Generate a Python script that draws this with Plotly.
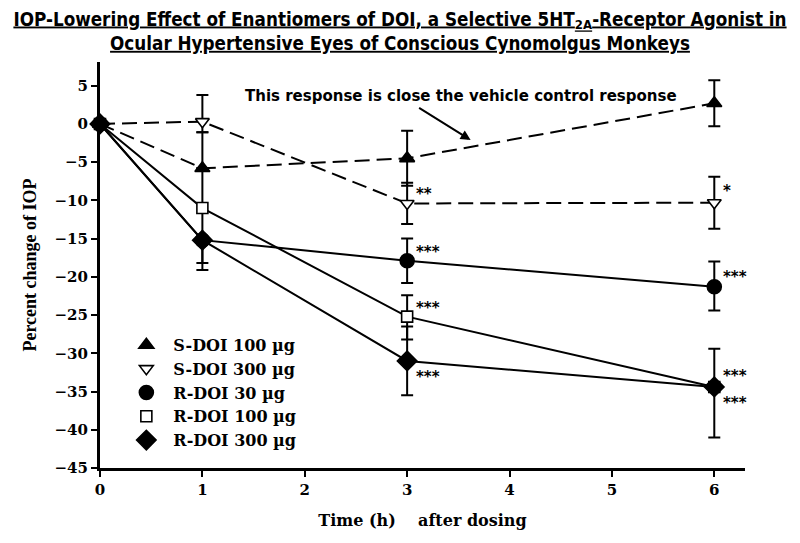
import plotly.graph_objects as go

hours = [0, 1, 3, 6]
x_ticks = [0, 1, 2, 3, 4, 5, 6]
y_ticks = [5, 0, -5, -10, -15, -20, -25, -30, -35, -40, -45]

s_doi_100 = [0, -5.8, -4.5, 2.7]
s_doi_100_up = [0, 4.7, 3.6, 3.0]
s_doi_100_dn = [0, 0, 3.6, 3.0]

s_doi_300 = [0, 0.3, -10.4, -10.3]
s_doi_300_up = [0, 3.5, 2.7, 3.4]
s_doi_300_dn = [0, 1.4, 2.7, 3.4]

r_doi_30 = [0, -15.2, -17.9, -21.3]
r_doi_30_up = [0, 0, 2.9, 3.3]
r_doi_30_dn = [0, 3.9, 2.9, 3.1]

r_doi_100 = [0, -11.0, -25.2, -34.4]
r_doi_100_up = [0, 5.2, 2.8, 5.0]
r_doi_100_dn = [0, 4.2, 3.0, 0]

r_doi_300 = [0, -15.2, -31.0, -34.4]
r_doi_300_up = [0, 0, 4.5, 0]
r_doi_300_dn = [0, 3.0, 4.5, 6.6]

# significance marks
sig_x = [3, 3, 3, 3, 6, 6, 6, 6]
sig_y = [-9.1, -16.8, -24.1, -33.1, -8.8, -20.0, -33.0, -36.5]
sig_t = ["**", "***", "***", "***", "*", "***", "***", "***"]

names = ["S-DOI 100 µg", "S-DOI 300 µg", "R-DOI 30 µg", "R-DOI 100 µg", "R-DOI 300 µg"]

SERIF = "DejaVu Serif"

series = [
    (s_doi_300, s_doi_300_up, s_doi_300_dn, "triangle-down", 12, "white", "15px,7px", names[1]),
    (r_doi_100, r_doi_100_up, r_doi_100_dn, "square", 11, "white", "solid", names[3]),
    (s_doi_100, s_doi_100_up, s_doi_100_dn, "triangle-up", 13, "black", "15px,7px", names[0]),
    (r_doi_300, r_doi_300_up, r_doi_300_dn, "diamond", 15, "black", "solid", names[4]),
    (r_doi_30, r_doi_30_up, r_doi_30_dn, "circle", 14, "black", "solid", names[2]),
]

fig = go.Figure()
for ys, up, dn, sym, sz, fill, dash, nm in series:
    fig.add_trace(go.Scatter(
        x=hours, y=ys, mode="lines+markers", name=nm, showlegend=False,
        line=dict(color="black", width=2, dash=dash),
        marker=dict(symbol=sym, size=sz, color=fill, line=dict(color="black", width=1.6)),
        error_y=dict(type="data", symmetric=False, array=up, arrayminus=dn,
                     color="black", thickness=2, width=6),
        cliponaxis=False,
    ))

leg = {names[0]: ("triangle-up", 13, "black"), names[1]: ("triangle-down", 12, "white"),
       names[2]: ("circle", 14, "black"), names[3]: ("square", 11, "white"),
       names[4]: ("diamond", 15, "black")}
for nm in names:
    sym, sz, fill = leg[nm]
    fig.add_trace(go.Scatter(
        x=[None], y=[None], mode="markers", name=nm,
        marker=dict(symbol=sym, size=sz, color=fill, line=dict(color="black", width=1.6)),
    ))

for xx, yy, tt in zip(sig_x, sig_y, sig_t):
    fig.add_annotation(x=xx, y=yy, text="<b>" + tt + "</b>", showarrow=False,
                       xanchor="left", yanchor="middle", xshift=7,
                       font=dict(family="DejaVu Sans", size=15, color="black"))

fig.add_annotation(x=3.62, y=-2.1, ax=-53, ay=-33, showarrow=True, arrowhead=2,
                   arrowsize=1, arrowwidth=2, arrowcolor="black", text="")
fig.add_annotation(xref="paper", yref="paper", x=(461 - 100) / 645, y=(468 - 96) / 406,
                   text="<b>This response is close the vehicle control response</b>",
                   showarrow=False, xanchor="center", yanchor="middle",
                   font=dict(family="DejaVu Sans", size=15, color="black"))

fig.update_layout(
    width=800, height=543,
    margin=dict(l=100, r=55, t=62, b=75),
    paper_bgcolor="white", plot_bgcolor="white",
    title=dict(
        text="<b><u>IOP-Lowering Effect of Enantiomers of DOI, a Selective 5HT<sub>2A</sub>-Receptor Agonist in</u></b><br><b><u>Ocular Hypertensive Eyes of Conscious Cynomolgus Monkeys</u></b>",
        x=0.5, xref="container", xanchor="center", yref="container", y=0.953, yanchor="top",
        font=dict(family="DejaVu Sans Condensed, Noto Sans", size=18.7, color="black"),
    ),
    legend=dict(x=0.03, y=0.345, xanchor="left", yanchor="top", bgcolor="rgba(0,0,0,0)",
                font=dict(family=SERIF, size=16, color="black", weight="bold"),
                itemwidth=44, traceorder="normal"),
    showlegend=True,
)
fig.update_xaxes(range=[0, 6.3], tickvals=x_ticks, showline=True, linecolor="black", linewidth=3,
                 ticks="outside", ticklen=6, tickwidth=2, tickcolor="black", showgrid=False, zeroline=False,
                 tickfont=dict(family=SERIF, size=15, color="black", weight="bold"),
                 title=dict(text="Time (h)\u00a0\u00a0\u00a0\u00a0after dosing", standoff=17,
                            font=dict(family=SERIF, size=16, color="black", weight="bold")))
fig.update_yaxes(range=[-45, 8.1], tickvals=y_ticks, showline=True, linecolor="black", linewidth=3,
                 ticks="outside", ticklen=6, tickwidth=2, tickcolor="black", showgrid=False, zeroline=False,
                 tickfont=dict(family=SERIF, size=15, color="black", weight="bold"),
                 title=dict(text="Percent change of IOP", standoff=14,
                            font=dict(family="Liberation Serif", size=18, color="black", weight="bold")))

fig.write_html("out.html", post_script="document.body.style.margin='0';",
               config={"displayModeBar": False})
